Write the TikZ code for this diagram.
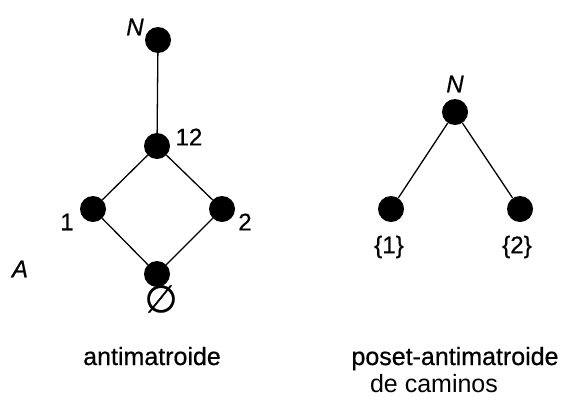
\documentclass[tikz,border=0pt]{standalone}
\usepackage{fontspec}
\setmainfont{Liberation Sans}
\newfontfamily\heavysans[FakeBold=0.6]{Liberation Sans}
\newfontfamily\djv[FakeBold=0.6]{DejaVu Sans}
\begin{document}
\begin{tikzpicture}[x=1pt,y=-1pt,
  dot/.style={circle,fill=black,minimum size=26pt,inner sep=0pt},
  lbl/.style={inner sep=0pt,font=\fontsize{24}{28}\selectfont\heavysans},
  captext/.style={inner sep=0pt,font=\fontsize{25}{29}\selectfont\heavysans,anchor=base},
  edgeline/.style={line width=1.3pt}]
\useasboundingbox (0,0) rectangle (561,399);
% left diagram
\node[dot] (lN) at (158,40) {};
\node[dot] (l12) at (157,146) {};
\node[dot] (l1) at (93,209) {};
\node[dot] (l2) at (222,209) {};
\node[dot] (l0) at (157,274) {};
\draw[edgeline] (lN) -- (l12);
\draw[edgeline] (l12) -- (l1);
\draw[edgeline] (l12) -- (l2);
\draw[edgeline] (l1) -- (l0);
\draw[edgeline] (l2) -- (l0);
\node[lbl] (tN) at (135,27) {\itshape N};
\node[lbl] (t12) at (189,137) {12};
\node[lbl] (t1) at (67,222) {1};
\node[lbl] (t2) at (245,222) {2};
\node[lbl] (tA) at (20,269) {\itshape A};
\node[inner sep=0pt,font=\fontsize{38}{42}\selectfont] (t0) at (161,299) {\djv ∅};
% right diagram
\node[dot] (rN) at (455,112) {};
\node[dot] (r1) at (391,209) {};
\node[dot] (r2) at (520,209) {};
\draw[edgeline] (rN) -- (r1);
\draw[edgeline] (rN) -- (r2);
\node[lbl] (sN) at (455,84) {\itshape N};
\node[lbl] (s1) at (389,247) {\{1\}};
\node[lbl] (s2) at (517,247) {\{2\}};
% captions
\node[captext] (c1) at (152,365) {antimatroide};
\node[captext] (c2) at (455,365) {poset-antimatroide};
\node[inner sep=0pt,font=\fontsize{25}{29}\selectfont,anchor=base] (c3) at (434,392) {de caminos};
\end{tikzpicture}
\end{document}
